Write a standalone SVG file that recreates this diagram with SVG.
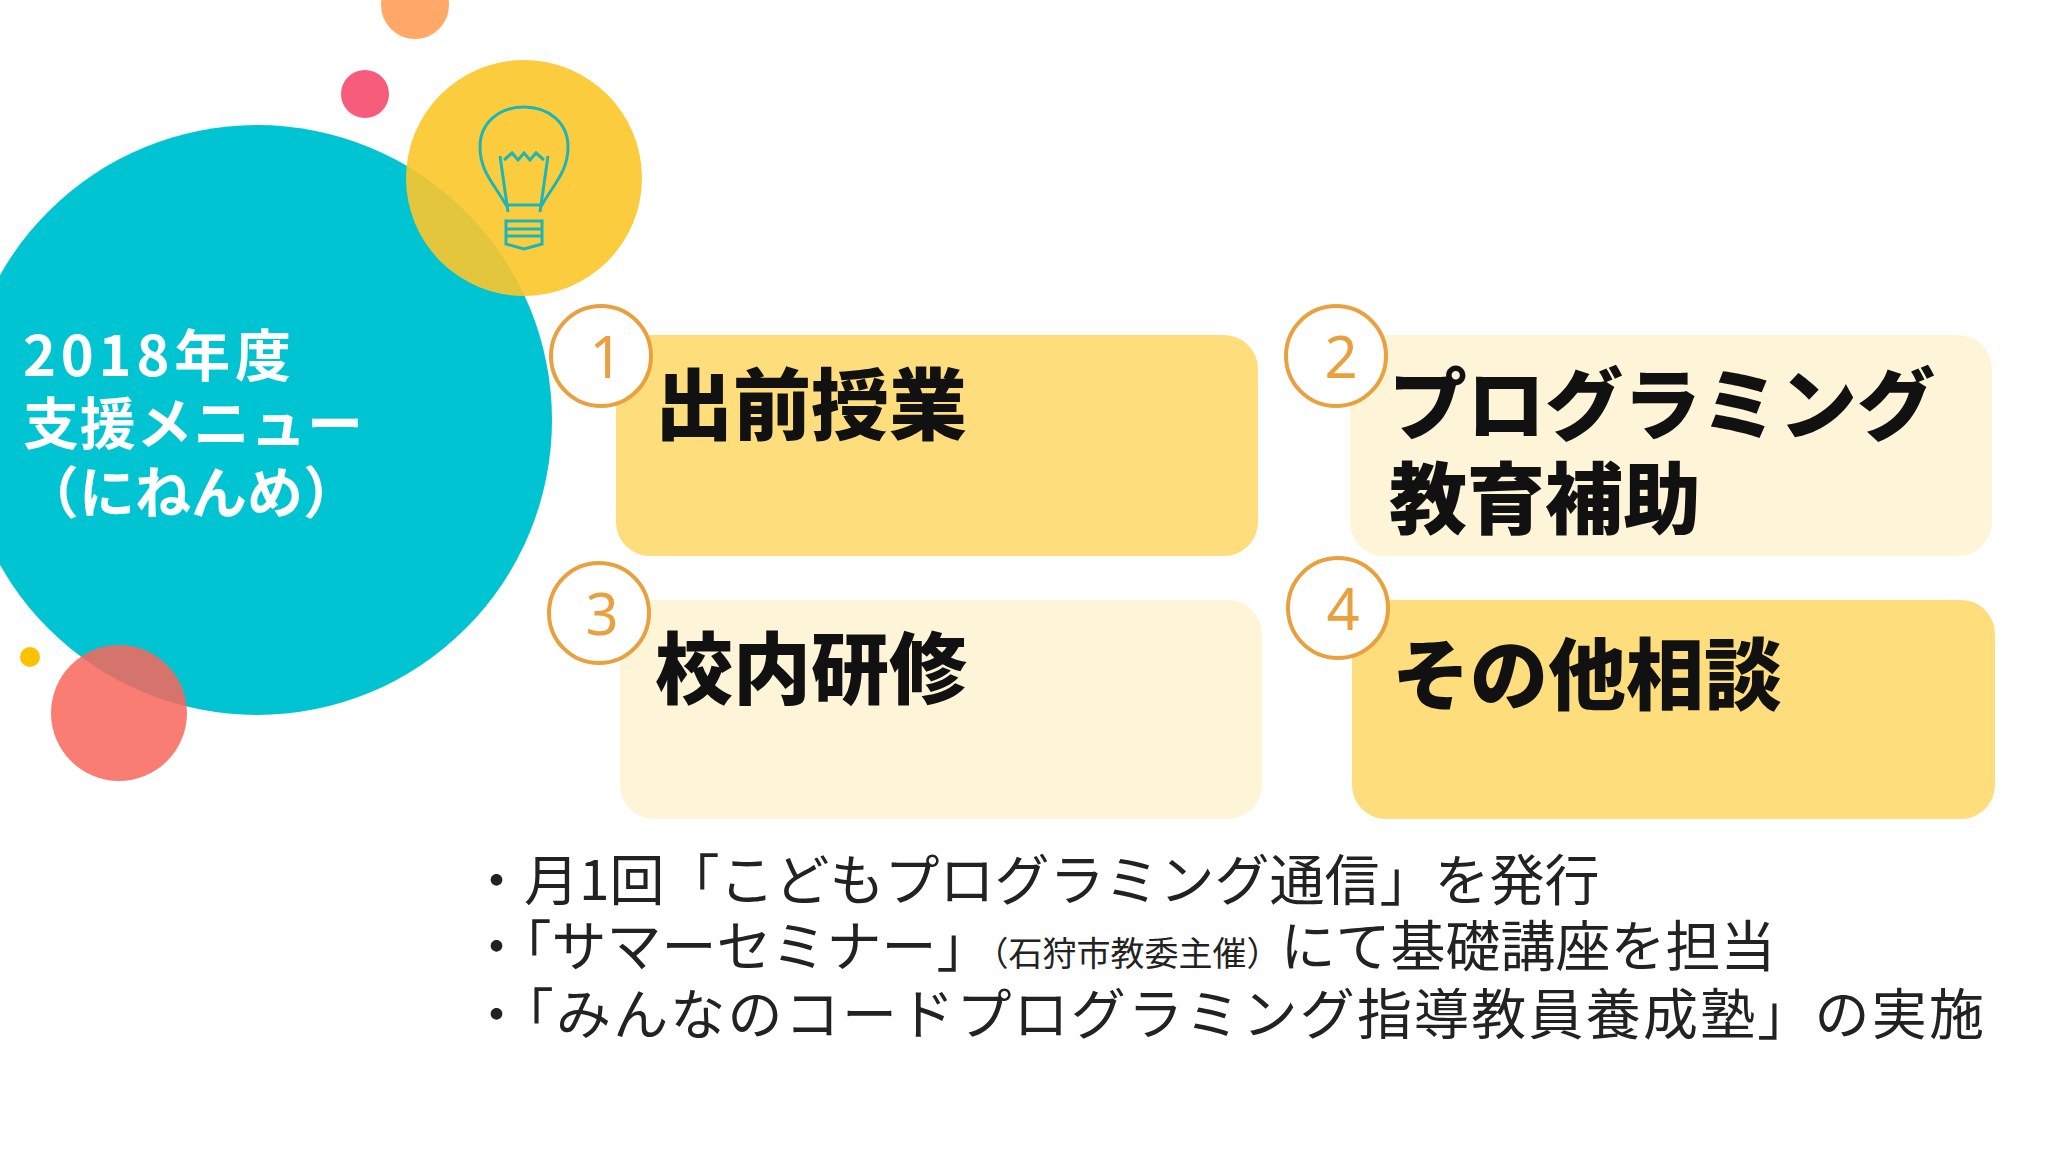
<svg xmlns="http://www.w3.org/2000/svg" width="2048" height="1152" viewBox="0 0 2048 1152">
<style>
.t{font-family:"Noto Sans CJK JP","Noto Sans",sans-serif}
.title{fill:#fff;font-size:56px;font-weight:bold}
.box{font-size:78px;font-weight:900;fill:#111}
.num{fill:#fff;stroke:#E9A03E;stroke-width:4}
.nt{font-family:"Noto Sans",sans-serif;font-size:58px;fill:#E9A03E;text-anchor:middle}
.bl{font-size:55px;fill:#222}
</style>
<rect width="2048" height="1152" fill="#fff"/>
<g id="deco">
<circle cx="415" cy="5" r="34" fill="#FFA868"/>
<circle cx="365" cy="94" r="24" fill="#F85C7C"/>
<circle cx="257" cy="420" r="295" fill="#00C4D1"/>
<circle cx="524" cy="178" r="118" fill="#FCC72A" opacity="0.9"/>
<circle cx="30" cy="657" r="10" fill="#FCC200"/>
<circle cx="119" cy="713" r="68" fill="#F9665C" opacity="0.85"/>
<g fill="none" stroke="#1CB5B8" stroke-width="3">
<path d="M506,205 C495,185 480,172 480,147 C480,122 500,107 524,107 C548,107 568,122 568,147 C568,172 553,185 542,205 Z"/>
<path d="M500,156 L508,212 M548,156 L540,212 M504,160 L512,153 L518,160 L524,153 L530,160 L536,153 L544,160"/>
<path d="M506,221 H542 V244 L524,249 L506,244 Z M506,229 H542 M506,236 H542"/>
</g>
</g>
<g id="title" class="t title">
<text x="23" y="376" textLength="268">2018年度</text>
<text x="23" y="444" textLength="340">支援メニュー</text>
<text x="23" y="513">（にねんめ）</text>
</g>
<g id="n1"><rect x="616" y="335" width="642" height="221" rx="34" fill="#FDDD7C"/><text class="t box" x="655" y="434">出前授業</text></g>
<g id="n2"><rect x="1350" y="335" width="642" height="221" rx="34" fill="#FEF4D8"/><text class="t box" x="1389" y="434">プログラミング</text><text class="t box" x="1389" y="528">教育補助</text></g>
<g id="n3"><rect x="620" y="600" width="642" height="219" rx="34" fill="#FEF4D8"/><text class="t box" x="655" y="698">校内研修</text></g>
<g id="n4"><rect x="1352" y="600" width="643" height="219" rx="34" fill="#FDDD7C"/><text class="t box" x="1392" y="704">その他相談</text></g>
<g id="badges">
<circle class="num" cx="601" cy="356" r="50"/><text class="nt" x="606" y="378">1</text>
<circle class="num" cx="1336" cy="356" r="50"/><text class="nt" x="1341" y="378">2</text>
<circle class="num" cx="599" cy="613" r="50"/><text class="nt" x="602" y="635">3</text>
<circle class="num" cx="1338" cy="608" r="50"/><text class="nt" x="1343" y="630">4</text>
</g>
<g id="bullets" class="t bl">
<text x="469" y="900">・月1回「こどもプログラミング通信」を発行</text>
<text x="469" y="966">・「サマーセミナー」<tspan font-size="34">（石狩市教委主催）</tspan>にて基礎講座を担当</text>
<text x="469" y="1034" textLength="1515">・「みんなのコードプログラミング指導教員養成塾」の実施</text>
</g>
</svg>
